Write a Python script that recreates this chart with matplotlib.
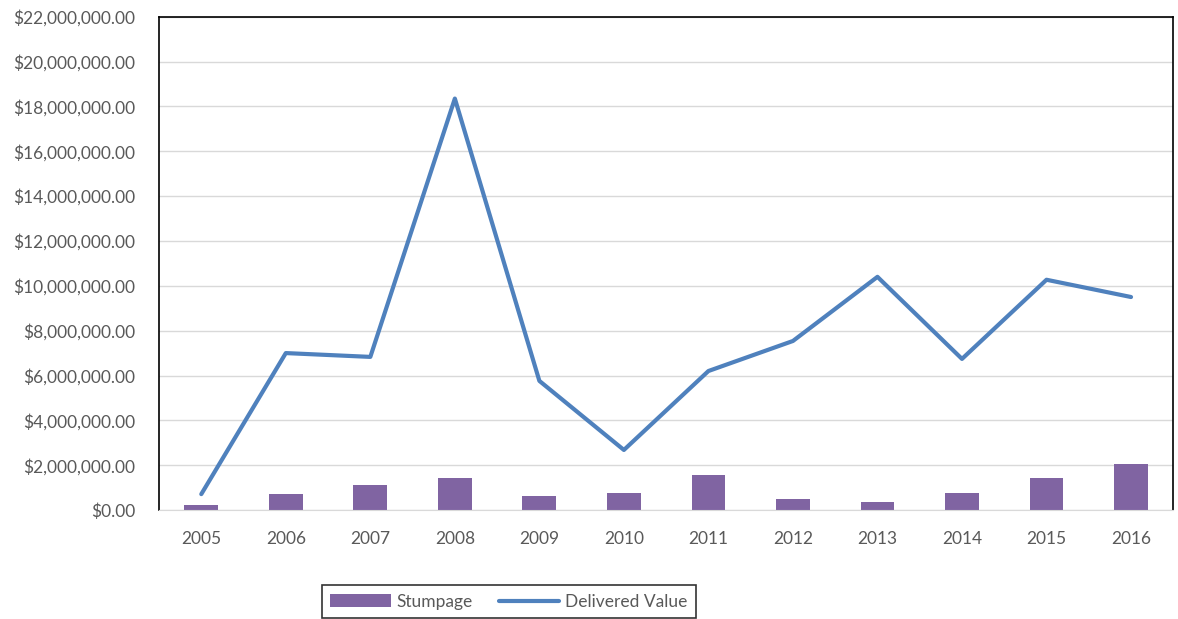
import matplotlib.pyplot as plt
import matplotlib.ticker as mticker
import numpy as np

# Daten
years = ['2005', '2006', '2007', '2008', '2009', '2010',
         '2011', '2012', '2013', '2014', '2015', '2016']
stumpage = [0.21e6, 0.70e6, 1.10e6, 1.44e6, 0.61e6, 0.76e6,
            1.56e6, 0.48e6, 0.36e6, 0.76e6, 1.41e6, 2.05e6]
delivered = [0.71e6, 7.00e6, 6.83e6, 18.35e6, 5.76e6, 2.68e6,
             6.20e6, 7.54e6, 10.40e6, 6.74e6, 10.27e6, 9.50e6]

plt.rcParams['font.family'] = ['Lato', 'DejaVu Sans']
text_color = '#595959'

fig = plt.figure(figsize=(11.78, 6.19), dpi=100)
ax = fig.add_axes([0.135, 0.176, 0.861, 0.797])

x = np.arange(len(years))
bars = ax.bar(x, stumpage, width=0.4, color='#8064A2', label='Stumpage', zorder=2)
line, = ax.plot(x, delivered, color='#4F81BD', lw=3, solid_capstyle='round',
                label='Delivered Value', zorder=3)

ax.set_xlim(-0.5, len(years) - 0.5)
ax.set_ylim(0, 22e6)
ax.set_xticks(x)
ax.set_xticklabels(years)
ax.yaxis.set_major_locator(mticker.MultipleLocator(2e6))
ax.yaxis.set_major_formatter(mticker.FuncFormatter(lambda v, p: f'${v:,.2f}'))
ax.grid(axis='y', color='#d9d9d9', lw=1, zorder=0)
ax.tick_params(length=0, labelsize=12.5, labelcolor=text_color)
ax.tick_params(axis='x', pad=15)
ax.tick_params(axis='y', pad=17)

for side in ['top', 'left', 'right']:
    ax.spines[side].set_color('black')
    ax.spines[side].set_linewidth(1.2)
ax.spines['bottom'].set_color('#d9d9d9')

# Legende unten, Rahmen wird unten vom Bildrand abgeschnitten
leg = fig.legend([bars, line], ['Stumpage', 'Delivered Value'],
                 loc='upper left', bbox_to_anchor=(0.273, 0.055), ncol=2,
                 frameon=True, fancybox=False, fontsize=12.5, handlelength=3.5,
                 handletextpad=0.3, columnspacing=1.5, borderpad=0.5,
                 borderaxespad=0)
leg.get_frame().set_edgecolor('black')
leg.get_frame().set_linewidth(1.2)
for t in leg.get_texts():
    t.set_color(text_color)

fig.savefig('out.png', dpi=100)
